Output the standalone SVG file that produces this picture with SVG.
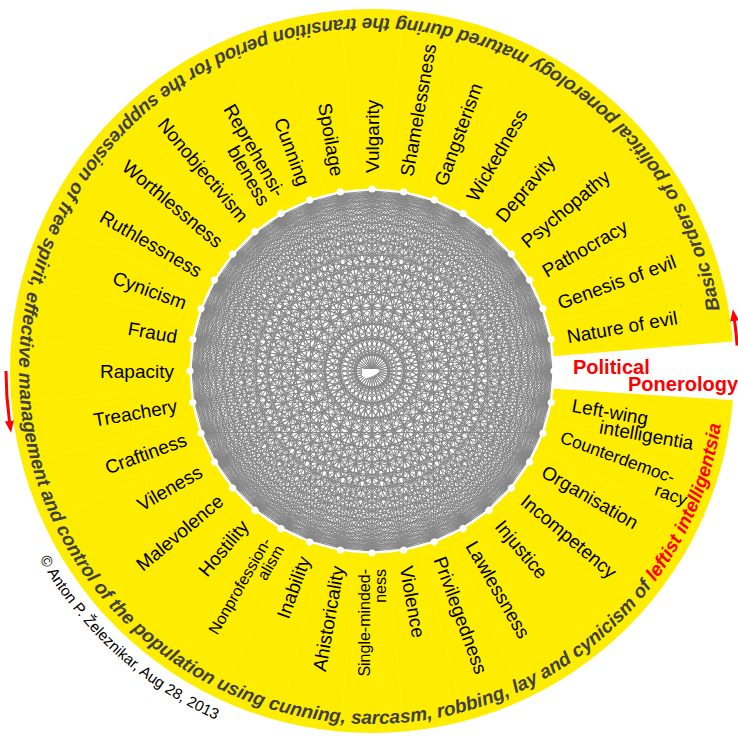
<svg xmlns="http://www.w3.org/2000/svg" xmlns:xlink="http://www.w3.org/1999/xlink" width="738" height="736" viewBox="0 0 738 736">
<defs>
<style>
.lbl{font-family:"Liberation Sans",Arial,sans-serif;font-size:19px;fill:#000}
.r{text-anchor:start}
.l{text-anchor:end}
.sm{font-size:16px}
.pp{font-family:"Liberation Sans",Arial,sans-serif;font-size:20px;font-weight:bold;fill:#f00}
.outer{font-family:"Liberation Sans",Arial,sans-serif;font-size:19px;font-weight:bold;font-style:italic;fill:#404040}
.copy{font-family:"Liberation Sans",Arial,sans-serif;font-size:15.2px;fill:#000}
</style>
<path id="fan" d="M180 0L177.27 -31.26M180 0L169.14 -61.56M180 0L155.88 -90M180 0L137.89 -115.7M180 0L115.7 -137.89M180 0L90 -155.88M180 0L61.56 -169.14M180 0L31.26 -177.27M180 0L0 -180M180 0L-31.26 -177.27M180 0L-61.56 -169.14M180 0L-90 -155.88M180 0L-115.7 -137.89M180 0L-137.89 -115.7M180 0L-155.88 -90M180 0L-169.14 -61.56M180 0L-177.27 -31.26M180 0L-180 0"/>
<circle id="dot" cx="182" cy="0" r="3.6" fill="#fff"/>
<line id="sep" x1="184" y1="0" x2="362" y2="0"/>
<path id="outerPath" d="M719.64 309.7A353 353 0 0 0 24.36 432.3A353 353 0 0 0 719.64 309.7"/>
<path id="copyPath" d="M39.52 559.1A382 382 0 0 0 318.84 749.28"/>
<marker id="ah" viewBox="0 0 12 9" refX="1" refY="4.5" markerWidth="12" markerHeight="9" markerUnits="userSpaceOnUse" orient="auto"><path d="M0 0L12 4.5L0 9z" fill="#f00"/></marker>
</defs>
<rect width="738" height="736" fill="#fff"/>
<circle cx="372" cy="371" r="362" fill="#ffed00"/>
<g transform="translate(372 371)" stroke="#fff" stroke-opacity="0.07" stroke-width="0.8">
<use href="#sep" transform="rotate(5)"/><use href="#sep" transform="rotate(15)"/><use href="#sep" transform="rotate(25)"/><use href="#sep" transform="rotate(35)"/><use href="#sep" transform="rotate(45)"/><use href="#sep" transform="rotate(55)"/><use href="#sep" transform="rotate(65)"/><use href="#sep" transform="rotate(75)"/><use href="#sep" transform="rotate(85)"/><use href="#sep" transform="rotate(95)"/><use href="#sep" transform="rotate(105)"/><use href="#sep" transform="rotate(115)"/><use href="#sep" transform="rotate(125)"/><use href="#sep" transform="rotate(135)"/><use href="#sep" transform="rotate(145)"/><use href="#sep" transform="rotate(155)"/><use href="#sep" transform="rotate(165)"/><use href="#sep" transform="rotate(175)"/><use href="#sep" transform="rotate(185)"/><use href="#sep" transform="rotate(195)"/><use href="#sep" transform="rotate(205)"/><use href="#sep" transform="rotate(215)"/><use href="#sep" transform="rotate(225)"/><use href="#sep" transform="rotate(235)"/><use href="#sep" transform="rotate(245)"/><use href="#sep" transform="rotate(255)"/><use href="#sep" transform="rotate(265)"/><use href="#sep" transform="rotate(275)"/><use href="#sep" transform="rotate(285)"/><use href="#sep" transform="rotate(295)"/><use href="#sep" transform="rotate(305)"/><use href="#sep" transform="rotate(315)"/><use href="#sep" transform="rotate(325)"/><use href="#sep" transform="rotate(335)"/><use href="#sep" transform="rotate(345)"/><use href="#sep" transform="rotate(355)"/>
</g>
<path d="M520 359L745 340.5L745 401L520 386.5Z" fill="#fff"/>
<circle cx="372" cy="371" r="182.5" fill="#fff"/>
<g id="connectors" transform="translate(372 371)" stroke="#878787" stroke-width="0.9" fill="none">
<use href="#fan" transform="rotate(0)"/><use href="#fan" transform="rotate(10)"/><use href="#fan" transform="rotate(20)"/><use href="#fan" transform="rotate(30)"/><use href="#fan" transform="rotate(40)"/><use href="#fan" transform="rotate(50)"/><use href="#fan" transform="rotate(60)"/><use href="#fan" transform="rotate(70)"/><use href="#fan" transform="rotate(80)"/><use href="#fan" transform="rotate(90)"/><use href="#fan" transform="rotate(100)"/><use href="#fan" transform="rotate(110)"/><use href="#fan" transform="rotate(120)"/><use href="#fan" transform="rotate(130)"/><use href="#fan" transform="rotate(140)"/><use href="#fan" transform="rotate(150)"/><use href="#fan" transform="rotate(160)"/><use href="#fan" transform="rotate(170)"/><use href="#fan" transform="rotate(180)"/><use href="#fan" transform="rotate(190)"/><use href="#fan" transform="rotate(200)"/><use href="#fan" transform="rotate(210)"/><use href="#fan" transform="rotate(220)"/><use href="#fan" transform="rotate(230)"/><use href="#fan" transform="rotate(240)"/><use href="#fan" transform="rotate(250)"/><use href="#fan" transform="rotate(260)"/><use href="#fan" transform="rotate(270)"/><use href="#fan" transform="rotate(280)"/><use href="#fan" transform="rotate(290)"/><use href="#fan" transform="rotate(300)"/><use href="#fan" transform="rotate(310)"/><use href="#fan" transform="rotate(320)"/><use href="#fan" transform="rotate(330)"/><use href="#fan" transform="rotate(340)"/><use href="#fan" transform="rotate(350)"/>
</g>
<path d="M362 369L378 369L380 371Q374 377 366 378Q362 377 362 374Z" fill="#fff"/>
<g id="dots" transform="translate(372 371)">
<use href="#dot" transform="rotate(0)"/><use href="#dot" transform="rotate(10)"/><use href="#dot" transform="rotate(20)"/><use href="#dot" transform="rotate(30)"/><use href="#dot" transform="rotate(40)"/><use href="#dot" transform="rotate(50)"/><use href="#dot" transform="rotate(60)"/><use href="#dot" transform="rotate(70)"/><use href="#dot" transform="rotate(80)"/><use href="#dot" transform="rotate(90)"/><use href="#dot" transform="rotate(100)"/><use href="#dot" transform="rotate(110)"/><use href="#dot" transform="rotate(120)"/><use href="#dot" transform="rotate(130)"/><use href="#dot" transform="rotate(140)"/><use href="#dot" transform="rotate(150)"/><use href="#dot" transform="rotate(160)"/><use href="#dot" transform="rotate(170)"/><use href="#dot" transform="rotate(180)"/><use href="#dot" transform="rotate(190)"/><use href="#dot" transform="rotate(200)"/><use href="#dot" transform="rotate(210)"/><use href="#dot" transform="rotate(220)"/><use href="#dot" transform="rotate(230)"/><use href="#dot" transform="rotate(240)"/><use href="#dot" transform="rotate(250)"/><use href="#dot" transform="rotate(260)"/><use href="#dot" transform="rotate(270)"/><use href="#dot" transform="rotate(280)"/><use href="#dot" transform="rotate(290)"/><use href="#dot" transform="rotate(300)"/><use href="#dot" transform="rotate(310)"/><use href="#dot" transform="rotate(320)"/><use href="#dot" transform="rotate(330)"/><use href="#dot" transform="rotate(340)"/><use href="#dot" transform="rotate(350)"/>
</g>
<g id="n-political-ponerology"><text class="pp"><tspan x="573" y="374">Political</tspan><tspan x="628" y="390.5">Ponerology</tspan></text></g>
<g id="n-nature-of-evil"><text class="lbl r" transform="translate(372 371) rotate(-10)" x="198" dy="0.36em">Nature of evil</text></g>
<g id="n-genesis-of-evil"><text class="lbl r" transform="translate(372 371) rotate(-20)" x="198" dy="0.36em">Genesis of evil</text></g>
<g id="n-pathocracy"><text class="lbl r" transform="translate(372 371) rotate(-30)" x="198" dy="0.36em">Pathocracy</text></g>
<g id="n-psychopathy"><text class="lbl r" transform="translate(372 371) rotate(-40)" x="198" dy="0.36em">Psychopathy</text></g>
<g id="n-depravity"><text class="lbl r" transform="translate(372 371) rotate(-50)" x="198" dy="0.36em">Depravity</text></g>
<g id="n-wickedness"><text class="lbl r" transform="translate(372 371) rotate(-60)" x="198" dy="0.36em">Wickedness</text></g>
<g id="n-gangsterism"><text class="lbl r" transform="translate(372 371) rotate(-70)" x="198" dy="0.36em">Gangsterism</text></g>
<g id="n-shamelessness"><text class="lbl r" transform="translate(372 371) rotate(-80)" x="198" dy="0.36em">Shamelessness</text></g>
<g id="n-vulgarity"><text class="lbl r" transform="translate(372 371) rotate(-90)" x="198" dy="0.36em">Vulgarity</text></g>
<g id="n-spoilage"><text class="lbl l" transform="translate(372 371) rotate(80)" x="-198" dy="0.36em">Spoilage</text></g>
<g id="n-cunning"><text class="lbl l" transform="translate(372 371) rotate(70)" x="-198" dy="0.36em">Cunning</text></g>
<g id="n-reprehensibleness"><text class="lbl l" transform="translate(372 371) rotate(60)"><tspan x="-198" dy="-0.1em">Reprehensi-</tspan><tspan x="-198" dy="0.92em">bleness</tspan></text></g>
<g id="n-nonobjectivism"><text class="lbl l" transform="translate(372 371) rotate(50)" x="-198" dy="0.36em">Nonobjectivism</text></g>
<g id="n-worthlessness"><text class="lbl l" transform="translate(372 371) rotate(40)" x="-198" dy="0.36em">Worthlessness</text></g>
<g id="n-ruthlessness"><text class="lbl l" transform="translate(372 371) rotate(30)" x="-198" dy="0.36em">Ruthlessness</text></g>
<g id="n-cynicism"><text class="lbl l" transform="translate(372 371) rotate(20)" x="-198" dy="0.36em">Cynicism</text></g>
<g id="n-fraud"><text class="lbl l" transform="translate(372 371) rotate(10)" x="-198" dy="0.36em">Fraud</text></g>
<g id="n-rapacity"><text class="lbl l" transform="translate(372 371) rotate(0)" x="-198" dy="0.36em">Rapacity</text></g>
<g id="n-treachery"><text class="lbl l" transform="translate(372 371) rotate(-10)" x="-198" dy="0.36em">Treachery</text></g>
<g id="n-craftiness"><text class="lbl l" transform="translate(372 371) rotate(-20)" x="-198" dy="0.36em">Craftiness</text></g>
<g id="n-vileness"><text class="lbl l" transform="translate(372 371) rotate(-30)" x="-198" dy="0.36em">Vileness</text></g>
<g id="n-malevolence"><text class="lbl l" transform="translate(372 371) rotate(-40)" x="-198" dy="0.36em">Malevolence</text></g>
<g id="n-hostility"><text class="lbl l" transform="translate(372 371) rotate(-50)" x="-198" dy="0.36em">Hostility</text></g>
<g id="n-nonprofessionalism"><text class="lbl l sm" transform="translate(372 371) rotate(-60)"><tspan x="-198" dy="-0.1em">Nonprofession-</tspan><tspan x="-198" dy="0.95em">alism</tspan></text></g>
<g id="n-inability"><text class="lbl l" transform="translate(372 371) rotate(-70)" x="-198" dy="0.36em">Inability</text></g>
<g id="n-ahistoricality"><text class="lbl l" transform="translate(372 371) rotate(-80)" x="-198" dy="0.36em">Ahistoricality</text></g>
<g id="n-single-mindedness"><text class="lbl l sm" transform="translate(372 371) rotate(-90)"><tspan x="-198" dy="-0.1em">Single-minded-</tspan><tspan x="-198" dy="0.95em">ness</tspan></text></g>
<g id="n-violence"><text class="lbl r" transform="translate(372 371) rotate(80)" x="198" dy="0.36em">Violence</text></g>
<g id="n-privilegedness"><text class="lbl r" transform="translate(372 371) rotate(70)" x="198" dy="0.36em">Privilegedness</text></g>
<g id="n-lawlessness"><text class="lbl r" transform="translate(372 371) rotate(60)" x="198" dy="0.36em">Lawlessness</text></g>
<g id="n-injustice"><text class="lbl r" transform="translate(372 371) rotate(50)" x="198" dy="0.36em">Injustice</text></g>
<g id="n-incompetency"><text class="lbl r" transform="translate(372 371) rotate(40)" x="198" dy="0.36em">Incompetency</text></g>
<g id="n-organisation"><text class="lbl r" transform="translate(372 371) rotate(30)" x="198" dy="0.36em">Organisation</text></g>
<g id="n-counterdemocracy"><text class="lbl r" transform="translate(372 371) rotate(20)" style="font-size:17.5px"><tspan x="200" y="3">Counterdemoc-</tspan><tspan x="340" y="20" text-anchor="end">racy</tspan></text></g>
<g id="n-left-wing-intelligentia"><text class="lbl r" transform="translate(372 371) rotate(10)"><tspan x="203" y="5.5">Left-wing</tspan><tspan x="234" y="22">intelligentia</tspan></text></g>
<g id="outer-text"><text class="outer"><textPath href="#outerPath">Basic orders of political ponerology matured during the transition period for the suppression of free spirit, effective management and control of the population using cunning, sarcasm, robbing, lay and cynicism of <tspan fill="#f00">leftist intelligentsia</tspan></textPath></text></g>
<g id="copyright"><text class="copy"><textPath href="#copyPath">© Anton P. Železnikar, Aug 28, 2013</textPath></text></g>
<g id="arrows" stroke="#f00" stroke-width="3" fill="none">
<path d="M6 371A366 366 0 0 0 9.56 421.94" marker-end="url(#ah)"/>
<path d="M737.1 345.5A366 366 0 0 0 734.44 320.06" marker-end="url(#ah)"/>
</g>
</svg>
